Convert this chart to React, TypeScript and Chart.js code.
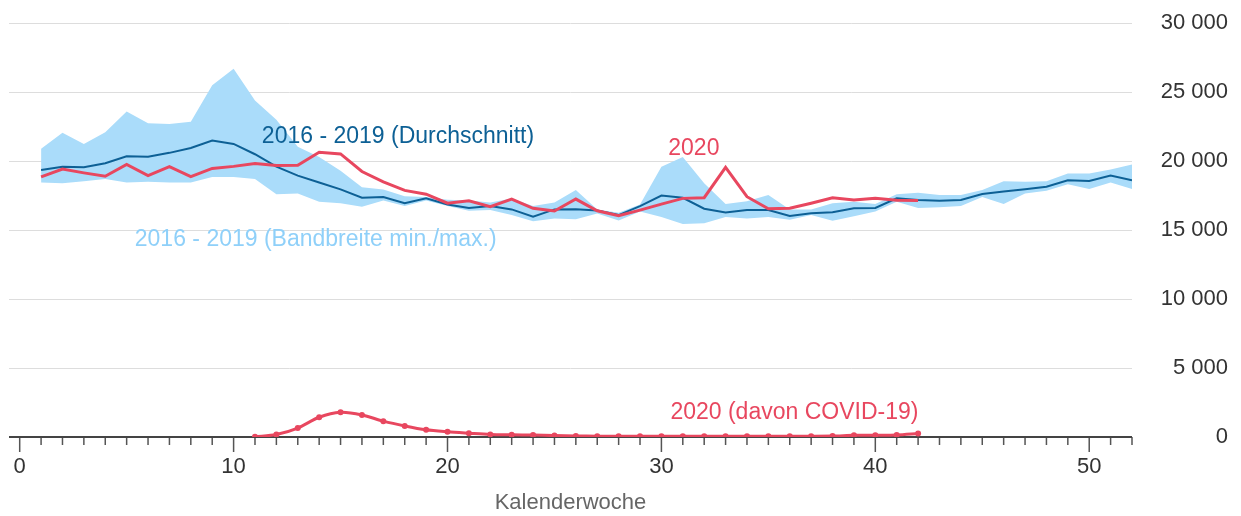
import { useEffect, useRef } from "react";
import { Chart, registerables } from "chart.js";

Chart.register(...registerables);

const FONT = "'Liberation Sans', Arial, Helvetica, sans-serif";

const weeks = [
  1, 2, 3, 4, 5, 6, 7, 8, 9, 10, 11, 12, 13, 14, 15, 16, 17, 18, 19, 20, 21, 22, 23, 24, 25, 26,
  27, 28, 29, 30, 31, 32, 33, 34, 35, 36, 37, 38, 39, 40, 41, 42, 43, 44, 45, 46, 47, 48, 49, 50, 51, 52,
];

const avg1619 = [
  19350, 19600, 19550, 19850, 20350, 20320, 20600, 20950, 21500, 21250, 20500, 19600, 18950, 18450,
  17950, 17350, 17400, 16950, 17300, 16850, 16600, 16750, 16500, 15980, 16500, 16520, 16420, 16090,
  16740, 17500, 17340, 16550, 16280, 16450, 16450, 16020, 16230, 16300, 16580, 16600, 17300, 17180,
  17130, 17180, 17620, 17800, 17970, 18150, 18620, 18560, 18950, 18620,
];

const max1619 = [
  20900, 22050, 21250, 22100, 23600, 22750, 22700, 22850, 25500, 26700, 24400, 23000, 21050, 20300,
  19300, 18100, 17950, 17450, 17400, 17200, 17150, 17000, 17300, 16750, 17000, 17900, 16500, 16250,
  16850, 19600, 20300, 18400, 16900, 17100, 17550, 16500, 16500, 16950, 17050, 16900, 17600, 17700,
  17550, 17550, 17900, 18550, 18500, 18550, 19100, 19100, 19400, 19750,
];

const min1619 = [
  18450, 18400, 18550, 18700, 18450, 18500, 18450, 18450, 18850, 18850, 18700, 17600, 17650, 17050,
  16950, 16700, 17150, 16750, 17150, 16750, 16400, 16450, 16100, 15650, 15850, 15780, 16200, 15700,
  16350, 15950, 15450, 15500, 15950, 15850, 15950, 15750, 16100, 15680, 16000, 16350, 17050, 16600,
  16650, 16750, 17400, 16900, 17650, 17850, 18330, 17980, 18450, 17980,
];

const weeks2020 = [
  1, 2, 3, 4, 5, 6, 7, 8, 9, 10, 11, 12, 13, 14, 15, 16, 17, 18, 19, 20, 21, 22, 23, 24, 25, 26,
  27, 28, 29, 30, 31, 32, 33, 34, 35, 36, 37, 38, 39, 40, 41, 42,
];

const deaths2020 = [
  18860, 19420, 19150, 18900, 19760, 18950, 19600, 18880, 19470, 19620, 19830, 19680, 19700, 20650,
  20520, 19250, 18500, 17880, 17600, 16950, 17120, 16700, 17250, 16580, 16380, 17250, 16400, 16050,
  16450, 16880, 17300, 17350, 19550, 17420, 16550, 16580, 16950, 17340, 17180, 17300, 17170, 17150,
];

const weeksCovid = [
  11, 12, 13, 14, 15, 16, 17, 18, 19, 20, 21, 22, 23, 24, 25, 26, 27, 28, 29, 30, 31, 32, 33, 34,
  35, 36, 37, 38, 39, 40, 41, 42,
];

const covid2020 = [
  20, 180, 650, 1430, 1790, 1600, 1150, 800, 520, 380, 280, 190, 160, 140, 100, 80, 60, 50, 50, 50,
  50, 50, 50, 50, 50, 60, 60, 70, 120, 130, 150, 260,
];

const xTickValues = [0, ...weeks];
const yTickValues = [0, 5000, 10000, 15000, 20000, 25000, 30000];

const labels = [
  { text: "2016 - 2019 (Durchschnitt)", week: 11.32, value: 21810, color: "#0d6095" },
  { text: "2020", week: 30.32, value: 20940, color: "#e8475f" },
  { text: "2016 - 2019 (Bandbreite min./max.)", week: 5.38, value: 14280, color: "#8fd0f9" },
  { text: "2020 (davon COVID-19)", week: 30.42, value: 1740, color: "#e8475f" },
];

const RED = "#e8475f";
const BLUE = "#0d6095";
const BAND = "#aadcfa";

const toXY = (xs: number[], ys: number[]) => xs.map((x, i) => ({ x, y: ys[i] }));

const fmt = (v: number) => String(v).replace(/\B(?=(\d{3})+(?!\d))/g, " ");

const axisPlugin = {
  id: "customAxis",
  beforeDatasetsDraw(chart: any) {
    const { ctx, chartArea, scales } = chart;
    const x = scales.x;
    const y = scales.y;
    const y0 = y.getPixelForValue(0);
    ctx.save();
    ctx.strokeStyle = "#555";
    ctx.lineWidth = 1.5;
    x.ticks.forEach((t: any) => {
      const px = x.getPixelForValue(t.value);
      const len = t.value % 10 === 0 ? 15 : 8;
      ctx.beginPath();
      ctx.moveTo(px, y0);
      ctx.lineTo(px, y0 + len);
      ctx.stroke();
    });
    ctx.strokeStyle = "#444";
    ctx.lineWidth = 2;
    ctx.beginPath();
    ctx.moveTo(chartArea.left, y0);
    ctx.lineTo(chartArea.right, y0);
    ctx.stroke();
    ctx.restore();
  },
  afterDraw(chart: any) {
    const { ctx, scales } = chart;
    ctx.save();
    ctx.font = `23px ${FONT}`;
    ctx.textAlign = "left";
    ctx.textBaseline = "middle";
    labels.forEach((l) => {
      ctx.fillStyle = l.color;
      ctx.fillText(l.text, scales.x.getPixelForValue(l.week), scales.y.getPixelForValue(l.value));
    });
    ctx.restore();
  },
};

export default function App() {
  const ref = useRef<HTMLCanvasElement | null>(null);

  useEffect(() => {
    document.body.style.margin = "0";
    const canvas = ref.current;
    if (!canvas) return;
    const chart = new Chart(canvas, {
      type: "line",
      data: {
        datasets: [
          {
            label: "max",
            data: toXY(weeks, max1619),
            borderWidth: 0,
            pointRadius: 0,
            backgroundColor: BAND,
            borderColor: BAND,
            fill: "+1",
            tension: 0,
            order: 5,
          },
          {
            label: "min",
            data: toXY(weeks, min1619),
            borderWidth: 0,
            pointRadius: 0,
            backgroundColor: BAND,
            borderColor: BAND,
            fill: false,
            tension: 0,
            order: 6,
          },
          {
            label: "2016 - 2019 (Durchschnitt)",
            data: toXY(weeks, avg1619),
            borderColor: BLUE,
            borderWidth: 2,
            pointRadius: 0,
            fill: false,
            tension: 0,
            order: 3,
          },
          {
            label: "2020",
            data: toXY(weeks2020, deaths2020),
            borderColor: RED,
            borderWidth: 3,
            pointRadius: 0,
            fill: false,
            tension: 0,
            order: 2,
          },
          {
            label: "2020 (davon COVID-19)",
            data: toXY(weeksCovid, covid2020),
            borderColor: RED,
            backgroundColor: RED,
            borderWidth: 3,
            pointRadius: 3,
            pointBorderWidth: 0,
            fill: false,
            tension: 0.3,
            order: 1,
          },
        ],
      },
      options: {
        responsive: false,
        animation: false,
        devicePixelRatio: 1,
        layout: { padding: { left: 9, top: 0, right: 13, bottom: 0 } },
        plugins: {
          legend: { display: false },
          tooltip: { enabled: false },
        },
        scales: {
          x: {
            type: "linear",
            min: -0.5,
            max: 52,
            afterFit: (s: any) => {
              s.height = 79;
            },
            afterBuildTicks: (s: any) => {
              s.ticks = xTickValues.map((v) => ({ value: v }));
            },
            grid: {
              display: true,
              drawOnChartArea: false,
              drawTicks: true,
              tickLength: 15,
              color: "rgba(0,0,0,0)",
            },
            border: { display: false },
            ticks: {
              autoSkip: false,
              maxRotation: 0,
              padding: 2,
              color: "#333",
              font: { family: FONT, size: 22 },
              callback: (v: any) => (Number(v) % 10 === 0 ? String(v) : ""),
            },
            title: {
              display: true,
              text: "Kalenderwoche",
              color: "#666",
              font: { family: FONT, size: 22 },
              padding: 0,
            },
          },
          y: {
            type: "linear",
            position: "right",
            min: 0,
            max: 30000,
            afterFit: (s: any) => {
              s.width = 96;
            },
            afterBuildTicks: (s: any) => {
              s.ticks = yTickValues.map((v) => ({ value: v }));
            },
            grid: {
              color: (c: any) => (c.tick && c.tick.value === 0 ? "rgba(0,0,0,0)" : "#dddddd"),
              lineWidth: 1,
              drawTicks: false,
              tickLength: 0,
            },
            border: { display: false },
            ticks: {
              padding: 10,
              crossAlign: "far",
              color: "#333",
              font: { family: FONT, size: 22 },
              callback: (v: any) => fmt(Number(v)),
            },
          },
        },
      },
      plugins: [axisPlugin],
    } as any);
    return () => chart.destroy();
  }, []);

  return (
    <div style={{ width: 1241, height: 516 }}>
      <canvas ref={ref} width={1241} height={516} style={{ display: "block" }} />
    </div>
  );
}
